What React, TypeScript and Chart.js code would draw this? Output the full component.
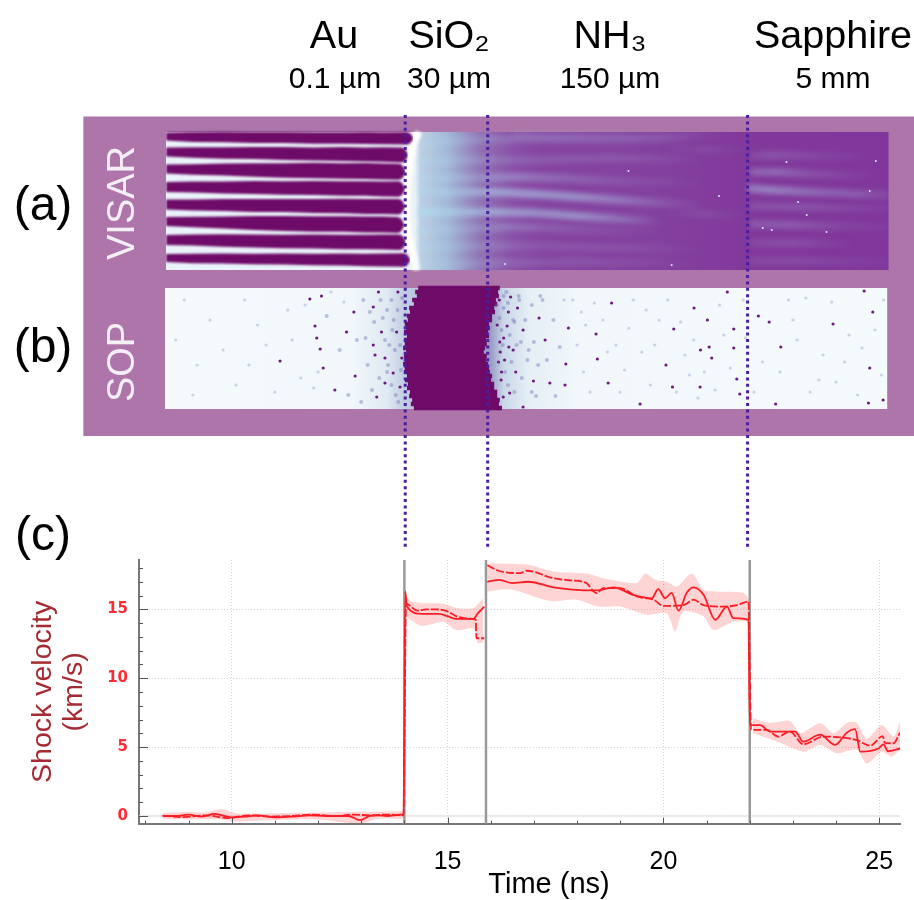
import React, { useEffect, useRef } from "react";
import { Chart, registerables } from "chart.js";

const blurPlugin = {
  id: "blurLayers",
  beforeDatasetDraw(chart: any, args: any) {
    const b = chart.data.datasets[args.index].blur;
    if (b) {
      chart.ctx.save();
      chart.ctx.filter = `blur(${b}px)`;
    }
  },
  afterDatasetDraw(chart: any, args: any) {
    if (chart.data.datasets[args.index].blur) chart.ctx.restore();
  },
};
// Registered ahead of the filler, so that fills are softened as well.
Chart.register(blurPlugin as any);
Chart.register(...registerables);

// ---------- layer annotations ----------
const layerNames = ["Au", "SiO₂", "NH₃", "Sapphire"];
const layerThickness = ["0.1 µm", "30 µm", "150 µm", "5 mm"];
const panelLetters = ["(a)", "(b)", "(c)"];
const panelNames = ["VISAR", "SOP"];
const interfaceTimes = [14.02, 15.93, 21.95];
const plotInterfaceTimes = [14.0, 15.89, 22.0];

// ---------- panel (c): [time ns, velocity km/s] ----------
const auSolid = [[8.4,0],[8.7,0],[9.0,0.1],[9.3,-0.05],[9.6,0.15],[10,-0.1],[10.3,-0.05],[10.6,0.05],[11,-0.1],[11.4,-0.05],[11.8,0.05],[12.2,0],[12.7,0],[12.97,-0.3],[13.2,0],[13.4,0.05],[13.6,0],[13.9,0.1],[13.98,0.1]];
const sio2Solid = [[14.02,16.3],[14.06,15.2],[14.4,14.67],[14.8,14.67],[15,14.5],[15.2,14.3],[15.6,14.3],[15.7,14.7],[15.85,15.2]];
const nh3Solid = [[15.92,17],[16.2,17.14],[16.5,16.9],[16.87,17],[17.45,16.6],[18.07,16.4],[18.46,16.37],[18.84,16.6],[19.3,16.05],[19.73,15.8],[19.88,16.46],[20.04,15.8],[20.19,16.2],[20.35,14.9],[20.54,16.2],[20.7,16.6],[20.93,16.05],[21.2,14.24],[21.47,15.2],[21.62,14.36],[21.97,14.24]];
const sapphireSolid = [[22,6.6],[22.24,6.6],[22.47,6.13],[23.05,6.13],[23.24,5.4],[23.63,5.9],[23.98,5.16],[24.25,6.05],[24.44,6.3],[24.56,4.67],[24.98,4.9],[25.1,5.2],[25.2,4.7],[25.48,4.9]];

const auDashed = [[8.4,0.02],[8.9,-0.08],[9.4,0.05],[9.9,-0.15],[10.4,0.05],[10.9,-0.05],[11.4,0],[11.9,0.1],[12.4,0],[12.8,0.1],[13.2,0.05],[13.6,0.1],[13.98,0.05]];
const sio2Dashed = [[14.04,15.4],[14.3,14.9],[14.5,15],[14.7,15],[15,14.85],[15.2,14.5],[15.6,14.3],[15.65,14.25],[15.67,12.9],[15.85,12.9]];
const nh3Dashed = [[15.92,18.2],[16.18,17.8],[16.68,17.63],[16.83,17.8],[17.45,17.26],[17.84,17.1],[18.22,16.9],[18.38,16.3],[18.46,16.17],[18.6,16.54],[19,16.54],[19.38,15.93],[19.77,15.7],[20,15.25],[20.46,15.3],[20.7,15.7],[20.93,15.3],[21.39,15.2],[21.7,15.3],[21.97,15.57]];
const sapphireDashed = [[22.03,6.25],[22.39,6.25],[22.66,5.76],[22.93,6.13],[23.24,5.2],[23.7,5.76],[24.13,5.7],[24.48,5.5],[24.79,5.1],[25.08,5.8],[25.13,5.3],[25.33,5.28],[25.48,6.05]];

const auUpper = [[8.4,0.2],[9,0.3],[9.4,0.25],[9.75,0.5],[10.1,0.2],[11,0.2],[12,0.25],[13,0.3],[13.98,0.35]];
const auLower = [[8.4,-0.2],[9,-0.25],[9.75,-0.25],[10.1,-0.4],[11,-0.3],[12,-0.25],[12.97,-0.55],[13.4,-0.2],[13.98,-0.2]];
const sio2Upper = [[14.03,16],[14.15,15.6],[14.4,15.45],[14.9,15.4],[15.2,15.1],[15.6,15.1],[15.83,15.8]];
const sio2Lower = [[14.03,14.5],[14.4,13.8],[14.9,14.1],[15.2,13.5],[15.6,13.6],[15.7,12.55],[15.85,12.65]];
const nh3Upper = [[15.92,18.35],[16.83,18.25],[17.45,17.75],[18.22,17.6],[18.61,17.25],[19.38,16.9],[19.58,17.6],[19.81,17.15],[20.08,17],[20.31,16.65],[20.66,17.6],[20.93,16.4],[21.24,16.3],[21.85,16.2],[21.99,15.7]];
const nh3Lower = [[15.92,16.3],[16.45,16.45],[17.37,15.6],[17.99,15.7],[18.49,15.2],[19,15.2],[19.61,14.6],[20.08,14.7],[20.27,13.4],[20.46,14.85],[20.93,14.5],[21.16,13.5],[21.62,14.1],[21.99,14.1]];
const sapphireUpper = [[22.07,7.1],[22.47,6.75],[22.93,6.9],[23.17,6],[23.63,6.75],[23.94,6],[24.25,6.75],[24.48,6.75],[24.71,5.6],[25.06,6.6],[25.33,5.76],[25.48,6.85]];
const sapphireLower = [[22.07,6],[22.63,5.4],[23.24,4.67],[23.63,5.16],[24.02,4.55],[24.48,4.8],[24.71,3.8],[25.06,4.67],[25.29,4.3],[25.48,4.8]];

// ---------- panel (a): VISAR fringes, time ns against detector row ----------
const barTimes = [8.48, 9.1, 9.8, 10.5, 11.2, 11.9, 12.6, 13.1, 13.5];
const barEnds = [14.2, 14.08, 14.02, 14.01, 14.01, 13.99, 14.03, 14.13];
const barRows = [
  [136.5,137,137,137.5,137.5,138,138,138,138.3,138.3],
  [152,152.5,153,153,153.5,154,154,154.5,154.5,155],
  [169,169.5,169.5,170,170.5,170.5,171,171,171.5,171.7],
  [187,187,187.5,187.5,188,188,188.5,188.5,189,189],
  [204.5,205,205,205.5,205.5,206,206,206.5,206.5,206.7],
  [221.5,222,222.5,223,223.5,224,224,224.5,224.5,225],
  [240,240,240.5,241,241.5,241.5,242,242,242,242.3],
  [258,258.5,258.5,259,259,259.5,259.5,260,260,260],
];
const barWidths = [
  [8,10,10.5,11,11,11.5,11.5,12,12,12.5],
  [9,10.5,11.5,12,13,13,14,14,14.5,15],
  [9,10.5,12,13.5,14.5,15.5,15.5,16,16,16],
  [10,11,12,13,13.5,14,14.5,14.5,15,15.5],
  [10,11,12,13,13,14,14.5,15,15,15.5],
  [9,10.5,12,14,15,15.5,15.5,16,16,16],
  [10,11,12.5,13,13.5,14,14.5,14.5,15,15.5],
  [8,9.5,10,10.5,11,11.5,12,12.5,13,13.5],
];
const frontTimes = [14.34, 14.2, 14.11, 14.06, 14.08, 14.18, 14.29];
const frontRows = [132, 145, 170, 200, 230, 250, 270];
const streaks = [
  { t: [14.3,15,16,17,18,19,20,21], r: [190,192,192,194,197,200,203,205], a: [0.3,0.35,0.55,0.55,0.5,0.35,0.15,0] },
  { t: [14.3,15,16,17,18,19,20], r: [212,212,212,213,216,219,222], a: [0.7,0.5,0.55,0.5,0.5,0.3,0] },
  { t: [14.3,15.5,16.5,17.5,19,21], r: [178,178,177,178,181,183], a: [0.25,0.25,0.35,0.25,0.12,0] },
  { t: [14.3,15.5,16.5,18,20], r: [231,229,227,229,232], a: [0.25,0.2,0.25,0.12,0] },
  { t: [14.3,15.5,17,19,21], r: [162,160,160,158,160], a: [0.25,0.2,0.15,0.15,0] },
  { t: [14.3,15.5,17,19,21], r: [145,140,139,140,139], a: [0.2,0.2,0.2,0.14,0] },
  { t: [14.3,15.5,17,19,21], r: [248,246,246,248,249], a: [0.2,0.18,0.12,0.1,0] },
  { t: [14.3,16,18,21], r: [265,263,262,263], a: [0.2,0.15,0.12,0] },
  { t: [16.5,18,20,21.5], r: [134,136,136,135], a: [0.12,0.12,0.1,0] },
  { t: [20,21,22], r: [148,150,150], a: [0,0.08,0] },
  { t: [20,21,21.9], r: [212,214,215], a: [0,0.1,0] },
  { t: [22,22.6,23.5,25], r: [172,172,174,176], a: [0.25,0.3,0.15,0] },
  { t: [21.95,22.5,23.5,24.5,25.22], r: [188,190,192,194,195], a: [0.4,0.45,0.3,0.22,0.1] },
  { t: [22,22.5,23.5,25], r: [156,155,156,157], a: [0.1,0.18,0.1,0] },
  { t: [22,23,24,25.2], r: [206,207,208,208], a: [0.15,0.18,0.12,0.04] },
  { t: [22,23,24,25.2], r: [224,225,226,227], a: [0.2,0.22,0.1,0.04] },
  { t: [22,23,24.5], r: [243,243,244], a: [0.1,0.15,0] },
  { t: [22,23,25.2], r: [261,261,262], a: [0.1,0.12,0.03] },
];
const hotPixels = [[22.85,162],[24.92,161],[24.78,191],[23.32,215],[22.3,228],[22.51,230],[23.78,232],[23.12,202],[16.33,264],[20.19,265],[21.29,196],[19.19,171]];

// ---------- panel (b): SOP emission, rows with the edges of the dark band ----------
const sopRows = [288,292,296,300,304,308,312,316,320,324,328,332,336,340,344,348,352,356,360,364,368,372,376,380,384,388,392,396,400,404,408];
const sopLeft = [14.32,14.25,14.29,14.18,14.22,14.11,14.13,14.06,14.08,14.01,14.04,13.99,14.06,13.99,14.01,13.97,14.04,13.99,14.01,13.97,14.01,13.99,14.06,14.01,14.08,14.06,14.13,14.11,14.18,14.15,14.22];
const sopRight = [16.21,16.17,16.19,16.12,16.15,16.08,16.1,16.03,16.03,15.96,15.98,15.94,15.96,15.89,15.91,15.87,15.84,15.91,15.89,15.94,15.96,15.98,16.03,16.01,16.08,16.08,16.15,16.15,16.21,16.19,16.26];
const darkSpecks = [[11.12,361],[12.08,296],[11.81,299],[11.93,326],[11.97,338],[12.05,349],[12.86,376],[12.83,312],[13.32,355],[13.28,345],[12.39,390],[12.12,368],[13.55,358],[13.47,332],[12.66,332],[13.74,373],[13.94,358],[13.82,332],[13.4,292],[13.28,307],[13.9,387],[13.55,383],[13.85,292],[13.36,397],
  [16.21,342],[16.52,350],[16.41,312],[16.75,330],[17.12,318],[17.26,340],[17.8,328],[17.74,364],[17.72,385],[17.37,383],[16.99,381],[16.25,372],[16.44,393],[16.29,397],[16.75,407],[18.8,303],[18.44,334],[18.47,359],[18.72,383],[19.46,404],[20.06,365],[20.24,329],[20.71,308],[21.02,320],[20.86,350],[21.06,347],[21.12,358],[21.63,348],[21.63,329],[21.48,292],[21.77,394],[20.21,387],[20.85,387],[21.7,379],[22.2,316],[22.45,322],[24.75,403],[25.09,400],[24.65,291],[22.6,404],[24.78,368],[22.72,347],[24.85,312],[23.93,324],
  [16.15,325],[16.22,352],[16.3,338],[16.18,362],[16.24,380],[16.32,360],[16.38,326],[16.2,300],[16.46,297],[16.62,308],[16.58,372],[16.42,347]];
const midSpecks = [[12.2,316],[12.5,350],[12.9,340],[13.05,300],[13.15,365],[13.25,390],[13.6,310],[13.65,345],[13.7,300],[13.75,320],[13.8,395],[13.6,372],[13.3,322],[13.0,402],[12.7,395],
  [13.45,300],[13.5,318],[13.55,340],[13.62,365],[13.7,385],[13.78,350],[13.84,310],[13.9,345],[13.92,370],[13.86,402],[13.95,298],[13.72,330],[13.42,378],[13.2,312],[13.1,338],
  [16.14,305],[16.2,318],[16.25,330],[16.28,345],[16.3,308],[16.33,372],[16.36,292],[16.4,385],[16.44,335],[16.48,362],[16.52,320],[16.55,392],[16.6,345],[16.66,300],[16.72,378],[16.8,320],[16.88,350],[16.95,392],[17.1,365],[17.15,296],
  [16.3,296],[16.4,303],[16.55,322],[16.65,296],[16.7,342],[16.85,360],[16.95,305],[17,342],[17.05,396],[17.2,300],[17.3,360],[17.45,320],[17.5,396],[17.6,347]];
const faintSpecks = [[9.5,320],[10.3,300],[10.8,345],[11.3,310],[11.6,378],[10.1,385],[9.2,365],[8.9,300],[9.8,350],[10.6,325],[11,392],[11.4,340],[11.7,305],[12,372],[12.3,292],[12.6,302],[9.1,395],[8.7,340],[10.4,365],[11.9,388],
  [17.9,300],[18,345],[18.15,372],[18.3,392],[18.6,320],[18.9,345],[19.1,370],[19.3,300],[19.5,352],[19.7,385],[19.9,320],[20.1,300],[20.3,392],[20.5,355],[20.6,375],[20.95,372],[21.2,390],[21.4,335],[21.55,368],[21.85,300],[22.3,362],[22.9,300],[23.1,340],[23.4,392],[23.7,355],[24,382],[24.3,335],[24.5,395],[24.9,330],[25.05,375],
  [18.1,312],[18.4,303],[18.7,352],[19,392],[19.2,328],[19.6,310],[19.8,345],[20.4,322],[20.7,340],[20.8,398],[21.3,305],[21.9,338],[22.1,392],[22.7,372],[23,320],[23.3,298],[23.6,380],[23.9,302],[24.2,362],[24.6,348],[25.1,300],[17.7,300],[18.2,325]];

// ---------- colour stops of the two image strips: [time ns, colour] ----------
const visarStops: [number, string][] = [[8.478,"#eaf3f9"],[14.25,"#eaf3f9"],[14.38,"#bcd0e4"],[15,"#a3b8d8"],[15.75,"#9172b5"],[16.52,"#8a4fa8"],[17.2,"#8644a1"],[20,"#84409f"],[22,"#82389b"],[25.22,"#81369b"]];
const sopStops: [number, string][] = [[8.455,"#f5fbfd"],[12.8,"#f1f7fb"],[13.6,"#dfe9f2"],[14,"#c0cde2"],[16,"#9a9cc6"],[16.3,"#c9d7e8"],[16.9,"#e6eff5"],[18,"#f1f7fb"],[25.19,"#f5fbfd"]];

const pts = (a: number[][]) => a.map(([x, y]) => ({ x, y }));
const zip = (xs: number[], ys: number[]) => xs.map((x, i) => ({ x, y: ys[i] }));
const FONT = "'Liberation Sans', Arial, sans-serif";
const RED = "#ff1c24";
const PINK = "rgba(255,40,40,0.2)";
const PURPLE = "#ad75a9";
const DARK = "#6e0b68";
const TOP_MIN = 4.633;
const TOP_MAX = 25.805;

const gradient = (stops: [number, string][]) => (c: any) => {
  const { chart } = c;
  const toPx = (t: number) => ((t - TOP_MIN) / (TOP_MAX - TOP_MIN)) * chart.width;
  const g = chart.ctx.createLinearGradient(toPx(stops[0][0]), 0, toPx(stops[stops.length - 1][0]), 0);
  const t0 = stops[0][0];
  const span = stops[stops.length - 1][0] - t0;
  stops.forEach(([t, col]) => g.addColorStop((t - t0) / span, col));
  return g;
};

const labelPlugin = {
  id: "figureLabels",
  afterDraw(chart: any) {
    const ctx = chart.ctx;
    ctx.save();
    ctx.textAlign = "center";
    ctx.textBaseline = "alphabetic";
    ctx.fillStyle = "#000";
    const nameX = [334, 449, 610, 833];
    const subX = [335, 449, 610, 833];
    ctx.font = `39.5px ${FONT}`;
    layerNames.forEach((s, i) => ctx.fillText(s, nameX[i], 48));
    ctx.font = `30px ${FONT}`;
    layerThickness.forEach((s, i) => ctx.fillText(s, subX[i], 88));
    ctx.font = `48px ${FONT}`;
    ctx.textBaseline = "middle";
    const letterY = [207, 349, 537];
    panelLetters.forEach((s, i) => ctx.fillText(s, 43, letterY[i]));
    ctx.fillStyle = "#f4eef5";
    ctx.font = `38px ${FONT}`;
    const nameY = [203, 362];
    panelNames.forEach((s, i) => {
      ctx.save();
      ctx.translate(124, nameY[i]);
      ctx.rotate(-Math.PI / 2);
      ctx.fillText(s, 0, 0);
      ctx.restore();
    });
    ctx.restore();
  },
};

const axisPlugin = {
  id: "innerTicks",
  afterDraw(chart: any) {
    const ctx = chart.ctx;
    const { x, y } = chart.scales;
    const area = chart.chartArea;
    ctx.save();
    ctx.strokeStyle = "#555";
    ctx.lineWidth = 1;
    x.ticks.forEach((t: any) => {
      const p = Math.round(x.getPixelForValue(t.value)) + 0.5;
      const len = t.value % 5 === 0 ? 6 : 3;
      ctx.beginPath();
      ctx.moveTo(p, area.bottom);
      ctx.lineTo(p, area.bottom - len);
      ctx.stroke();
    });
    y.ticks.forEach((t: any) => {
      const p = Math.round(y.getPixelForValue(t.value)) + 0.5;
      const len = t.value % 5 === 0 ? 9 : 4;
      ctx.beginPath();
      ctx.moveTo(area.left, p);
      ctx.lineTo(area.left + len, p);
      ctx.stroke();
    });
    ctx.fillStyle = "#000";
    ctx.textAlign = "center";
    ctx.textBaseline = "middle";
    ctx.font = `29px ${FONT}`;
    ctx.fillText("Time (ns)", x.getPixelForValue(17.35), chart.height - 15);
    ctx.restore();
  },
};

export default function App() {
  const topRef = useRef<HTMLCanvasElement>(null);
  const botRef = useRef<HTMLCanvasElement>(null);

  useEffect(() => {
    const flat = (data: any[], extra: any) => ({
      data,
      borderWidth: 0,
      pointRadius: 0,
      tension: 0,
      ...extra,
    });
    const sopSpans: any[] = [];
    sopRows.forEach((r, i) => {
      sopSpans.push({ x: sopLeft[i], y: r }, { x: sopRight[i], y: r }, { x: NaN, y: NaN });
    });
    // A fringe gap is the area between its upper and lower edge, closing into a round end.
    const barEdges = (b: number, sign: number) => {
      const end = barEnds[b];
      const rows = barRows[b];
      const w = barWidths[b];
      const last = w.length - 1;
      const out = barTimes.map((t, i) => ({ x: t, y: rows[i] + (sign * w[i]) / 2 }));
      const cap: [number, number][] = [[-0.14, 1], [-0.07, 0.82], [0, 0.15]];
      cap.forEach(([d, k]) => out.push({ x: end + d, y: rows[last] + (sign * w[last] * k) / 2 }));
      return out;
    };

    const topDatasets: any[] = [
      flat(zip([6.56, 25.805], [116.5, 116.5]), { fill: { value: 436 }, backgroundColor: PURPLE, order: 100 }),
      flat(zip([8.478, 25.22], [132, 132]), { fill: { value: 270 }, backgroundColor: gradient(visarStops), order: 90 }),
      flat(zip([8.455, 25.19], [288, 288]), { fill: { value: 409 }, backgroundColor: gradient(sopStops), order: 90 }),
      flat(zip(frontTimes, frontRows), { borderWidth: 7, borderColor: "#ffffff", blur: 1.5, tension: 0.3, order: 85 }),
      ...streaks.map((s) =>
        flat(zip(s.t, s.r), {
          borderWidth: 8,
          blur: 2.6,
          tension: 0.3,
          order: 80,
          borderColor: gradient(s.t.map((t, i) => [t, `rgba(175,220,238,${s.a[i]})`] as [number, string])),
        })
      ),
      flat(pts(hotPixels), { showLine: false, pointRadius: 1, pointBackgroundColor: "#cfeef5", order: 75 }),
      ...barRows.flatMap((_, b) => [
        flat(barEdges(b, -1), { fill: "+1", backgroundColor: DARK, blur: 0.8, order: 70 }),
        flat(barEdges(b, 1), { fill: false, order: 70 }),
      ]),
      flat(sopSpans, { borderWidth: 4.4, borderColor: DARK, spanGaps: false, blur: 0.6, order: 60 }),
      flat(pts(faintSpecks), { showLine: false, pointRadius: 1.6, pointBackgroundColor: "rgba(110,115,180,0.3)", blur: 0.5, order: 56 }),
      flat(pts(midSpecks), { showLine: false, pointRadius: 2, pointBackgroundColor: "rgba(100,100,175,0.38)", blur: 0.6, order: 55 }),
      flat(pts(darkSpecks), { showLine: false, pointRadius: 1.6, pointBackgroundColor: "#6e1a80", blur: 0.4, order: 50 }),
      ...interfaceTimes.map((t) =>
        flat(zip([t, t], [115, 548]), { borderWidth: 3, borderColor: "#4a1ea0", borderDash: [3, 3.4], order: 1 })
      ),
    ];

    const top = new Chart(topRef.current as HTMLCanvasElement, {
      type: "line",
      data: { datasets: topDatasets },
      plugins: [labelPlugin],
      options: {
        animation: false,
        responsive: false,
        layout: { padding: 0, autoPadding: false },
        plugins: { legend: { display: false }, tooltip: { enabled: false } },
        events: [],
        scales: {
          x: { type: "linear", display: false, min: TOP_MIN, max: TOP_MAX },
          y: { type: "linear", display: false, min: 0, max: 570, reverse: true },
        },
      },
    } as any);

    const band = (up: number[][], lo: number[][]) => [
      { data: pts(up), borderWidth: 0, pointRadius: 0, tension: 0.25, fill: "+1", backgroundColor: PINK, order: 9 },
      { data: pts(lo), borderWidth: 0, pointRadius: 0, tension: 0.25, fill: false, order: 9 },
    ];
    const curve = (a: number[][], dashed: boolean) => ({
      data: pts(a),
      borderColor: RED,
      borderWidth: 1.8,
      borderDash: dashed ? [8, 2] : [],
      pointRadius: 0,
      cubicInterpolationMode: "monotone",
      fill: false,
      order: 2,
    });
    const plotDatasets: any[] = [
      ...band(auUpper, auLower),
      ...band(sio2Upper, sio2Lower),
      ...band(nh3Upper, nh3Lower),
      ...band(sapphireUpper, sapphireLower),
      { data: zip([7.853, 25.48], [0, 0]), borderColor: "#e6e6e6", borderWidth: 1.5, pointRadius: 0, order: 10 },
      ...plotInterfaceTimes.map((t) => ({
        data: zip([t, t], [-0.56, 18.58]),
        borderColor: "#999999",
        borderWidth: 2.5,
        pointRadius: 0,
        order: 3,
      })),
      curve([...auSolid, ...sio2Solid], false),
      curve([...nh3Solid, ...sapphireSolid], false),
      curve([...auDashed, ...sio2Dashed], true),
      curve([...nh3Dashed, ...sapphireDashed], true),
    ];

    const bottom = new Chart(botRef.current as HTMLCanvasElement, {
      type: "line",
      data: { datasets: plotDatasets },
      plugins: [axisPlugin],
      options: {
        animation: false,
        responsive: false,
        events: [],
        layout: { padding: { top: 8, right: 14, left: 0, bottom: 0 }, autoPadding: false },
        plugins: { legend: { display: false }, tooltip: { enabled: false } },
        scales: {
          x: {
            type: "linear",
            min: 7.853,
            max: 25.48,
            afterFit: (s: any) => { s.height = 76.3; s.paddingLeft = 0; s.paddingRight = 0; },
            border: { display: true, color: "#777777", width: 2, dash: [1, 2] },
            grid: {
              drawTicks: false,
              color: (c: any) => (c.tick && c.tick.value % 5 === 0 ? "#d4d4d4" : "transparent"),
            },
            ticks: {
              stepSize: 1,
              includeBounds: false,
              autoSkip: false,
              maxRotation: 0,
              padding: 23,
              color: "#000",
              font: { family: FONT, size: 25 },
              callback: (v: any) => (Number(v) % 5 === 0 ? String(v) : ""),
            },
          },
          y: {
            type: "linear",
            min: -0.56,
            max: 18.58,
            afterFit: (s: any) => { s.width = 139; s.paddingTop = 0; s.paddingBottom = 0; },
            border: { display: true, color: "#777777", width: 2, dash: [1, 2] },
            grid: {
              drawTicks: false,
              color: (c: any) => (c.tick && c.tick.value % 5 === 0 ? "#d4d4d4" : "transparent"),
            },
            ticks: {
              stepSize: 1,
              includeBounds: false,
              autoSkip: false,
              padding: 11,
              color: "#ff2a33",
              font: { family: "'DejaVu Sans'", size: 15, weight: "bold" },
              callback: (v: any) => (Number(v) % 5 === 0 ? String(v) : ""),
            },
            title: {
              display: true,
              text: ["Shock velocity", "(km/s)"],
              color: "#a52a32",
              font: { family: FONT, size: 28.5, lineHeight: 1.1 },
              padding: { top: 27, bottom: 0 },
            },
          },
        },
      },
    } as any);

    return () => {
      top.destroy();
      bottom.destroy();
    };
  }, []);

  return (
    <div style={{ position: "fixed", left: 0, top: 0, width: 914, height: 900, background: "#fff", overflow: "hidden" }}>
      <canvas ref={topRef} width={914} height={570} style={{ position: "absolute", left: 0, top: 0, width: 914, height: 570 }} />
      <canvas ref={botRef} width={914} height={348} style={{ position: "absolute", left: 0, top: 552, width: 914, height: 348 }} />
    </div>
  );
}
